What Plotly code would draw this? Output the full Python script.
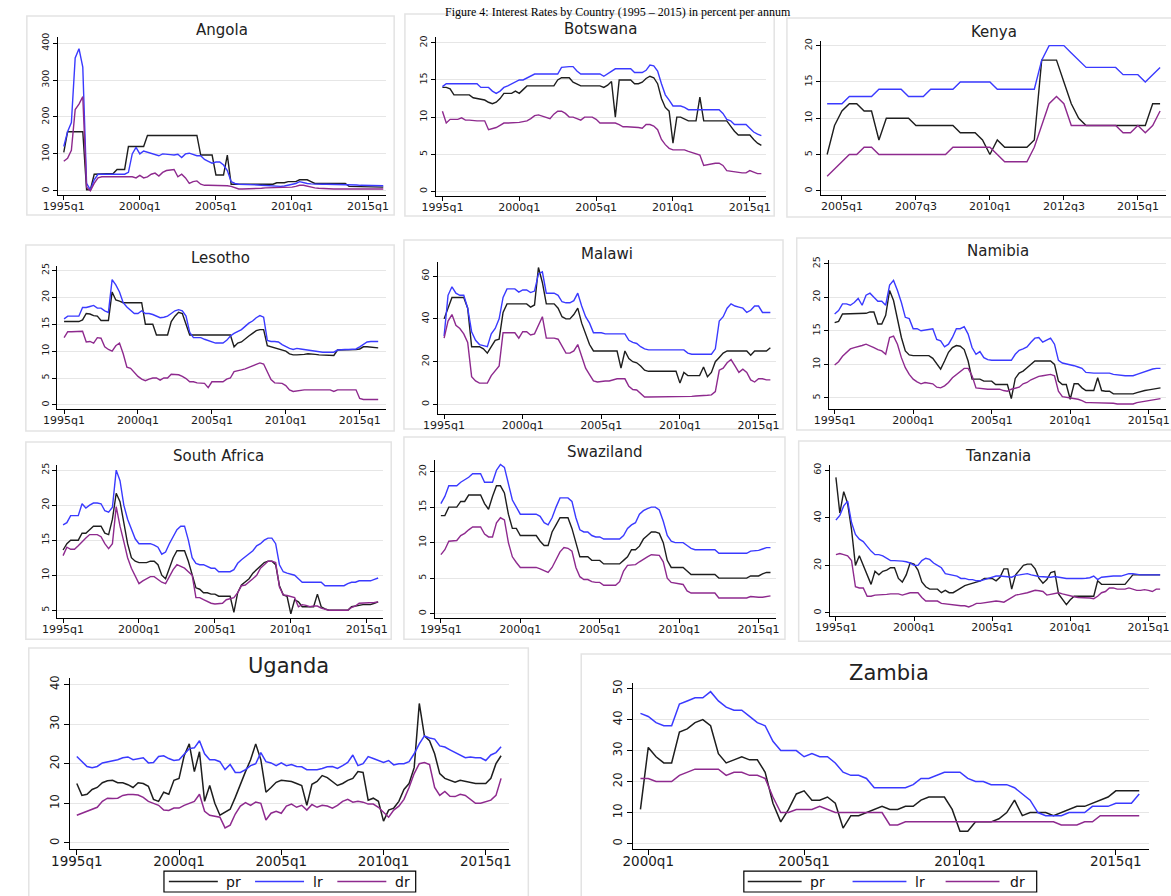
import plotly.graph_objects as go

W, H = 1171, 896

# ---------------- data (quarterly) ----------------
ticks_5y = ["1995q1", "2000q1", "2005q1", "2010q1", "2015q1"]
ticks_kenya = ["2005q1", "2007q3", "2010q1", "2012q3", "2015q1"]
ticks_zambia = ["2000q1", "2005q1", "2010q1", "2015q1"]

angola_start = "1995q1"
angola_pr = [104,160,160,160,160,160,3,3,45,45, 45,45,45,47,58,58,58,120,120,120,
             120,120,150,150,150,150,150,150,150,150, 150,150,150,150,150,150,97,97,97,97,
             43,43,43,97,18,18,18,18,18,18, 18,18,18,18,18,18,22,22,22,25,
             25,25,30,30,30,25,20,20,20,20, 20,20,20,20,20,12,12,11,11,11, 11,11,10,10,10]
angola_lr = [120,160,185,360,385,335,20,3,30,45, 45,45,45,45,45,45,45,50,100,118,
             100,108,105,103,98,95,100,98,98,97, 99,90,100,102,98,95,95,85,80,75,
             78,78,70,55,25,20,18,18,18,18, 17,16,15,14,13,12,12,12,13,15,
             17,20,25,22,20,19,18,18,18,18, 18,18,17,17,17,16,16,16,15,15, 15,15,15,15,14]
angola_dr = [80,88,110,220,235,255,10,0,20,35, 38,38,38,38,38,38,38,38,38,35,
             42,35,38,45,48,40,50,55,57,58, 38,45,35,20,25,27,18,15,15,15,
             14,14,14,14,12,8,5,5,5,6, 6,7,7,8,8,8,8,9,9,10,
             10,12,15,15,12,10,8,7,6,6, 5,5,5,5,5,5,5,5,5,4, 4,4,4,5,5]

botswana_start = "1995q1"
botswana_lr = [14.1,14.5,14.5,14.5,14.5,14.5,14.5,14.5,14.5,14.5, 14,14,14,13.5,13.2,13.5,14,14.2,14.5,14.8,
               15,15,15.3,15.5,15.8,15.8,15.8,15.8,15.8,15.8, 15.8,16.7,16.8,16.8,16.8,16.2,15.8,15.8,15.8,15.8,
               15.8,15.8,15.5,15.8,16.2,16.5,16.5,16.5,16.5,16.5, 16,16,16,16.3,17,16.9,16.2,14.5,13,12.3,
               11.5,11.5,11.5,11.3,11,11,11,11,11,11, 11,11,11,10.5,9.7,9.5,9,9,9,9, 8.5,8,7.7,7.5]
botswana_pr = [14,14,13.8,13,13,13,13,13,12.6,12.5, 12.5,12.3,12,11.8,12,12.5,13.2,13.2,13.2,13.5,
               13.2,13.7,14.2,14.2,14.2,14.2,14.2,14.2,14.2,14.2, 15,15.3,15.3,15.3,14.7,14.5,14.2,14.2,14.2,14.2,
               14.2,14.2,14,14.3,14.8,10,15,15,15,15, 14.5,14.5,14.7,15.2,15.5,15.3,14.5,12.5,11.3,10.8,
               6.5,10,10,9.8,9.5,9.5,9.5,12.7,9.5,9.5, 9.5,9.5,9.5,9.5,9.5,8.8,8.1,7.6,7.6,7.6, 7.6,7,6.5,6.2]
botswana_dr = [10.8,9.2,9.7,9.7,9.7,9.9,9.6,9.6,9.5,9.5, 9.5,9.5,8.3,8.4,8.6,8.9,9.2,9.2,9.2,9.2,
               9.3,9.4,9.5,9.8,10.2,10.3,10.1,9.9,9.8,10.4, 10.8,10.8,10.5,10,10,9.8,9.6,10,10,10,
               9.7,9.2,9.2,9.2,9.2,9.2,9,8.7,8.7,8.7, 8.6,8.6,8.5,9,9,8.8,8.3,7,6.3,5.8,
               5.6,5.6,5.6,5.6,5.4,5.2,5,4.9,3.5,3.6, 3.8,3.8,3.8,3.5,2.8,2.7,2.6,2.6,2.5,2.5, 2.8,2.6,2.4,2.4]

kenya_start = "2004q3"
kenya_lr = [12,12,12,13,13,13,13,14,14,14, 14,13,13,13,14,14,14,14,15,15,
            15,15,15,14,14,14,14,14,14,18, 20,20,20,19,18,17,17,17,17,17, 16,16,16,15,16,17]
kenya_pr = [5,9,11,12,12,11,11,7,10,10, 10,10,9,9,9,9,9,9,8,8,
            8,7,5,7,6,6,6,6,7,18, 18,18,15,12,10,9,9,9,9,9, 9,9,9,9,12,12]
kenya_dr = [2,3,4,5,5,6,6,5,5,5, 5,5,5,5,5,5,5,6,6,6,
            6,6,6,5,4,4,4,4,6,9, 12,13,12,9,9,9,9,9,9,9, 8,8,9,8,9,11]

lesotho_start = "1995q1"
lesotho_lr = [16,16.5,16.5,16.5,16.5,18.1,18.1,18.3,18.5,18, 18,17.5,17.2,23.3,22.3,21,19,18.2,17.5,17,
              17,17.5,17,17,16.8,16.5,16.2,16.3,16.5,17, 17.5,17.7,17.5,16.5,13.5,12.5,12.5,12.5,12.2,12,
              11.8,11.5,11.5,11.5,12,12.8,13.3,13.6,14,14.6, 15.2,15.6,16.2,16.6,16.3,12,11.8,11.8,11.7,11.2,
              10.8,10.5,10.3,10.5,10.4,10.3,10.2,10,9.9,9.8, 9.8,9.8,9.8,9.8,10.2,10.3,10.3,10.3,10.4,10.4,
              10.8,11.3,11.7,11.8,11.8,11.8]
lesotho_pr = [15.5,15.5,15.5,15.5,15.5,15.8,17,16.9,16.6,16.5, 15.7,15.7,15.7,21,19.5,19.3,19,19,19,19,
              19,19,15,15,15,13,13,13,13,15.5, 16.5,17.2,17,15,13,13,13,13,13,13,
              13,13,13,13,13,13,10.8,11.5,11.7,12.3, 12.8,13.3,13.8,14,14,11,10.8,10.7,10.5,10.2,
              10,9.5,9.3,9.3,9.3,9.4,9.5,9.5,9.4,9.3, 9.3,9.3,9.2,9.2,10.2,10.2,10.2,10.3,10.3,10.3,
              10.4,10.8,10.8,10.7,10.6,10.6]
lesotho_dr = [12.5,13.6,13.6,13.6,13.6,13.7,11.7,11.8,11.5,12.5, 12.4,10.8,10.3,10,11,11.5,9.5,7,6.8,6,
              5.3,4.8,4.5,4.8,5,5,4.6,5,5,5.7, 5.7,5.6,5.3,4.9,4.3,4.3,4.1,4,4,3.2,
              4.3,4.3,4.3,4.3,4.8,5,6.2,6.3,6.5,6.7, 7,7.2,7.6,7.8,7.6,6,4.7,4.1,4,4,
              3.6,2.8,2.5,2.6,2.8,2.8,2.8,2.8,2.8,2.8, 2.8,2.8,2.8,2.5,2.8,2.8,2.8,2.8,2.8,2.8,
              1.2,1,1,1,1,1]

malawi_start = "1995q1"
malawi_lr = [32,51,55,52,51,51,45,34,30,28, 27.5,27,33,35.5,40,50,54,54,54,52.5,
             53.5,53.5,52.3,53,61,62,52,52,52,51, 48,47.5,47.5,48.5,52,46,41,38,33.5,33.5,
             33.5,33,33,33,33,33,33,30,29,28.5, 27,26,25.5,25.5,25.5,25.5,25.5,25.5,25.5,25.5,
             25.5,25.5,24,23.5,23.5,23.5,23.5,23.5,23.5,26, 39,41,45,47,46,45.5,45,43,44,46, 46,43,43,43]
malawi_pr = [40,45,50,50,50,50,45,27,27,27, 26,24,27,30,30.5,43,47,47,47,47,
             47,47,45.5,46.5,64,57,47,47,47,45, 41,40,40,42,45,38,33,28,25,25,
             25,25,25,25,25,17,25,21.5,20,19.5, 18,16,15.5,15.5,15.5,15.5,15.5,15.5,15.5,15.5,
             10,15,13.5,13.5,13.5,13.5,17.5,13,15,20, 22,24,25,25,25,25,25,25,23,25, 25,25,25,26.5]
malawi_dr = [31,39,42,37,35.5,33,29,13,11,10, 10,10,13.5,16,18,33.5,33.5,33.5,33.5,31,
             34,34,32.5,33,37,41,31,31,31,30.5, 27,24,24,25,28,22,17,14,11,10.5,
             10.8,11,11,11.5,12,12,12,8.5,7,6.8, 5,3.5,3.5,3.5,3.5,3.5,3.5,3.5,3.5,3.5,
             3.5,3.6,3.8,3.8,4,4,4.2,4.3,4.5,6, 16,17,19.5,21,18,15,16.5,15,11.5,10.5, 12,12,11.5,11.5]

namibia_start = "1995q1"
namibia_lr = [17.5,18,19,19,18.8,19.2,19.8,18.8,20.3,20.6, 20,19.4,19.4,18.8,21.8,22.5,21,19.2,17,16.8,
              15.3,15.3,15,15.1,15.2,15.3,13.7,13.5,12.6,13, 14,15.3,15.3,15.6,14.5,12.5,11.5,11.9,11,10.7,
              10.6,10.6,10.6,10.6,10.6,10.6,11.5,12.1,12.3,12.6, 13.3,13.9,14,13.3,13.6,13.9,13,10.6,10.2,10.1,
              10,9.8,9.6,9.4,8.8,8.7,8.7,8.7,8.7,8.7, 8.7,8.5,8.4,8.3,8.3,8.3,8.3,8.5,8.7,9, 9.2,9.3,9.4,9.4]
namibia_pr = [16.2,16.4,17.5,17.5,17.5,17.5,17.5,17.5,17.6,17.8, 17.8,16,16,17.3,21,19.5,16.5,14,12,11.4,
              11.3,11.3,11.3,11.3,11.3,10.9,10,9.3,10.5,11.8, 12.5,12.8,12.7,12.2,10.5,7.8,7.8,7.8,7.5,7.5,
              7.5,7,7,7,7,4.9,7.9,8.7,9,9.5, 10,10.5,10.5,10.5,10.5,10.5,10,7.5,7,7,
              4.8,7.1,7.1,6.5,6.1,6.1,6.1,8,6.1,6, 6,5.6,5.6,5.6,5.6,5.6,5.6,5.8,6,6.1, 6.2,6.3,6.5,6.5]
namibia_dr = [9.9,10.4,11.2,11.8,12.3,12.5,12.6,12.8,13,12.8, 12.5,12.2,12,11.5,14,14.2,13,11,9.5,8.5,
              7.8,7.4,7.1,7.3,7.2,7.1,6.6,6.5,6.8,7.3, 8,8.5,9,9.4,9.4,8.3,6.5,6.4,6.3,6.3,
              6.3,6.3,6.3,6.1,6,6.3,6.4,6.6,7.1,7.3, 7.7,8,8.2,8.3,8.4,8.5,8.3,6,5.2,5.1,
              5.1,4.9,4.8,4.6,4.3,4.3,4.3,4.3,4.3,4.3, 4.3,4.2,4.1,4.1,4,4,4.1,4.3,4.4,4.5, 4.6,4.7,4.8,4.9]

southafrica_start = "1995q1"
southafrica_lr = [17.2,17.5,18.5,18.5,18.5,20.2,19.6,20,20.3,20.3, 20.2,19.2,19,19.7,25,23.5,20,18,16.5,15.2,
                  14.5,14.5,14.5,14.5,14.3,14,13,13.3,14.5,15.5, 16.5,17,17,15,12.5,11.7,11.5,11.5,11.2,11,
                  11,10.5,10.5,10.5,10.5,10.8,11.7,12.2,12.6,13, 13.5,14.2,14.5,15,15.3,15.3,14.5,11.5,10.5,10.3,
                  10.2,10,9.5,9,9,9,9,9,9,8.5, 8.5,8.5,8.5,8.5,8.5,8.8,9,9,9.2,9.2, 9.2,9.2,9.4,9.6]
southafrica_pr = [13.6,14.5,15,15,15,16,16,16.5,17,17, 17,16,15.8,18,21.7,20.5,17.5,14.5,12.5,12,
                  11.8,11.8,11.8,12,12,11.5,10,9.5,11,12.5, 13.5,13.5,13.5,12,10,8.2,8,7.5,7.5,7.3,
                  7.3,7,7,7,7,4.7,7.5,8.6,9,9.5, 10.3,10.8,11.3,11.8,12,12,11.5,8.5,7.2,7,
                  4.5,6.5,6.2,5.5,5.5,5.5,5.5,7.3,5.5,5.2, 5,5,5,5,5,5,5.5,5.6,5.8,5.8, 5.8,5.8,6,6.2]
southafrica_dr = [12.8,14,13.7,13.7,14.2,14.8,15.3,15.8,15.8,15.8, 15.5,14.5,13.8,14.5,19.8,17,14.8,12.5,11,10,
                  8.8,9.2,9.5,9.8,9.8,9.4,9,8.8,9.8,10.8, 11.5,11.3,11,10.5,10,6.8,6.8,6.5,6.2,6,
                  5.9,5.9,6,6.5,6.7,6.8,7.5,8.5,8.6,9, 9.5,10,11,11.5,12,12,11.8,8.3,7.2,7.1,
                  7,6.8,5.5,5.8,5.7,5.5,5.6,5.6,5.3,5.1, 5,5,5,5,5,5,5.4,5.6,6,6, 6,6,6.1,6.2]

swaziland_start = "1995q1"
swaziland_lr = [15.5,16.5,18,18,18,18.5,18.8,19.2,19.7,19.7, 19.7,18.5,18.5,18.5,20.2,21,20.6,18.5,16,15,
                14,14,14,14,14,13.7,12.8,12.5,13.5,15, 16.3,16.3,16.3,15.8,13.5,11.8,11.5,11.5,11,10.8,
                10.8,10.5,10.5,10.5,10.5,10.5,11,12,12.5,12.8, 14,14.5,14.8,15,15,14.6,13,11,10.2,10,
                10,10,9.6,9.2,9,9,9,9,9,9, 8.5,8.5,8.5,8.5,8.5,8.5,8.5,8.5,8.8,8.8, 8.9,9.1,9.3,9.3]
swaziland_pr = [13.8,13.8,15,15,15,15.8,15.8,16.7,16.7,16.7, 16.7,15.5,14.7,16.5,18,18,17,14,12,12,
                11,11,11,11,11,10.2,9.6,9.6,11.5,12.5, 13.5,13.5,13.5,12,10,8,8,8,7.5,7.5,
                7.5,7,7,7,7,7,7.5,8,9,9, 9.5,10.5,11,11.5,11.5,11.3,10,7.5,6.5,6.5,
                6.5,6.5,6,5.5,5.5,5.5,5.5,5.5,5.5,5.5, 5,5,5,5,5,5,5,5,5.3,5.3, 5.3,5.6,5.8,5.8]
swaziland_dr = [8.3,9,10.2,10.3,10.3,11,11.3,11.8,12.2,12.2, 12.2,11.2,10.8,10.8,12.8,13.5,13.2,10,8,7.2,
                6.5,6.5,6.5,6.5,6.5,6.3,6,5.8,6.5,7.5, 8.7,9.3,9.2,8.8,6.5,5.2,4.8,4.8,4.5,4.4,
                4.4,4,4,4,4,4.5,6,6.8,6.8,6.9, 7.3,7.7,8,8.3,8.3,8.2,7.3,5,4.4,4.3,
                4.3,4.1,3.2,2.9,2.9,2.9,2.9,2.9,2.9,2.9, 2.2,2.2,2.2,2.2,2.2,2.2,2.2,2.2,2.4,2.3, 2.3,2.3,2.4,2.5]

tanzania_start = "1995q1"
tanzania_lr = [39,41,45,47,38,33,31,30,28,26, 24.5,24.5,24,23,22,22,22,21.8,21.5,21,
               20,20,22,23,22.5,21,20,19,16.5,16.2, 16,15.5,14.5,14.5,14,14,13.5,13.5,14,14.5,
               15,15.5,15.5,15.5,15.2,15,15.8,16,16.3,16.5, 16,15.5,15.3,15.2,15,15,15.3,15,14.8,14.5,
               14.5,14.4,14.3,14.5,14.6,14.8,15.5,14,15,15.2, 15.5,15.5,15.5,15.5,16,16.5,16.5,16.2,16,16, 16,16,16,16]
tanzania_pr = [57,42,51,46,35,20,24,20,16,12, 17.5,16,17.5,18,19,19,14.5,13,16,21,
               20.5,18,13,11,10,10,10,8.5,9.5,8.5, 8.5,9.5,10.5,11.5,12,12.5,13,13.5,14.5,14.5,
               14.5,13.5,15,18.5,18.5,10,16,18,20,20.5, 20.5,18.5,14.5,12.5,14,17,17.5,8,5.5,3.5,
               5.5,7,7,7,7,7,7,13.5,12,12, 12,12,12,12,12,14,16,16,16,16, 16,16,16,16]
tanzania_dr = [24.5,25,24.5,24,22,11,10.5,10.5,7,7, 7.5,7.5,7.5,7.8,8,8,8,7.5,8,8.5,
               8.5,8.5,6.5,5,5,5,5,4,3.8,3.5, 3.2,3,3,3,2.5,3.2,4,4,4.2,4.3,
               4.8,5,4.8,4.5,5.5,6.5,7.5,7.8,8,8.5, 9,9.5,9.3,9,7.5,7.8,8,8.5,8,7.5,
               7,6.8,6.5,6.5,6.3,6.3,6,7,8.5,9, 10.5,10.5,10,10,10,10.5,10,9.5,9.5,9.8, 9.5,9,10,10]

uganda_start = "1995q1"
uganda_lr = [21.8,20.5,19.3,19,19.3,20.2,20.5,20.8,21,21.5, 21.7,21,21.3,21.5,20.2,20.3,21.8,22,21.3,20.8,
             21,22.5,23.8,24,25.8,22.5,21,21,20.5,18.5, 19.8,17.8,17.8,18.5,19.5,20,22.8,20.5,20.2,19.5,
             20.2,19.5,19.8,19.3,19.2,18.5,18.5,18.5,18.8,19.2, 19.3,18.8,19.5,20.3,22.2,19.5,20,21.8,21.3,20.8,
             20.3,20.8,19.7,20,20,20.5,22.5,25,27,26.5, 26.2,24.5,24.2,23.5,22.8,22.2,21.5,21.7,21.5,21.5,
             20.8,22.2,22.8,24.3]
uganda_pr = [15,12,12.3,13.5,14,15.2,15.7,15.8,15.2,15.2, 14.7,14,15.2,15,14.3,11,10.5,12.8,12.3,15.8,
             16.3,22,25,18,23,10.5,14.5,10,7,7.8, 8.5,11.5,15,18,21,25,21,12.8,14,15.3,
             15.8,15.7,15.5,15,14.5,9.5,14.8,15.5,17,16.5, 15.5,14.5,15,15.8,16.3,18,17.8,10.8,11.3,10.5,
             5.5,8.3,8.8,10.5,13.5,15,19,35.2,27,25.8, 22.5,17.5,16.3,15.8,15.3,15.8,15.5,15.2,15,15,
             15,16.3,20,22]
uganda_dr = [7,7.5,7.8,8.3,9,10.5,11.3,11.2,11.3,12, 12.2,12.2,12.1,11.5,10.5,10,9.5,8.3,8.2,8.8,
             8.8,9.5,10,10.5,12.3,8,7,6.8,6.5,3.8, 4.5,7.3,9.3,10.2,9.5,10.3,10,5.8,7.5,8,
             7.5,9.3,9.8,9,9.5,8.3,9.7,9,9.5,9.3, 8.8,9.5,10.5,11,10.3,10.5,10.3,9.8,9.8,9,
             7.8,6.5,8.3,9.3,11,14,17.5,20,20.3,19.8, 14,12,13,11.8,11.7,12.3,12,11,10,10,
             10.5,10.8,12,16.3]

zambia_start = "1999q4"
zambia_pr = [11,31,28,26,26,36,37,39,40,38, 29,26,27,28,27,27,23,13,7,11,
             16,17,14,14,15,13,5,9,9,10, 11,12,11,11,12,12,14,15,15,15,
             11,4,4,7,7,7,8,10,14,9, 10,10,10,9,10,11,12,12,13,14, 15,17,17,17,17]
zambia_lr = [42,41,39,38,38,45,46,47,47,49, 46,44,43,43,41,39,38,33,30,30,
             30,28,29,28,28,26,23,22,22,21, 18,18,18,18,18,19,21,21,22,23,
             23,23,21,20,20,19,19,19,18,16, 14,10,9,9,9,10,10,10,12,12, 12,13,13,13,16]
zambia_dr = [21,21,20,20,20,22,23,24,24,24, 24,22,23,23,22,22,21,15,10,10,
             11,11,11,12,11,10,10,10,10,10, 10,10,6,6,7,7,7,7,7,7,
             7,7,7,7,7,7,7,7,7,7, 7,7,7,7,6,6,6,7,7,9, 9,9,9,9,9]

series_names = ["pr", "lr", "dr"]
series_colors = {"pr": "#1e1e1e", "lr": "#3a3aff", "dr": "#8e2a8e"}


def qidx(label):
    """quarter label like '1995q1' -> sequential quarter number."""
    return (int(label[:4]) - 1995) * 4 + int(label[5]) - 1


# ---------------- layout of panels (pixel geometry) ----------------
FONT = "DejaVu Sans"
panels = [
    dict(title="Angola", data=(angola_pr, angola_lr, angola_dr), start=angola_start,
         box=(40, 375, 33, 192), xr=(-1.47, 84.8), yr=(-11.6, 417), yt=[0, 100, 200, 300, 400],
         xt=ticks_5y, tpos=(207, 26), frame=(8, 12, 383, 212), big=False),
    dict(title="Botswana", data=(botswana_pr, botswana_lr, botswana_dr), start=botswana_start,
         box=(426, 763, 33, 193), xr=(-1.6, 84.3), yr=(-0.63, 20.8), yt=[0, 5, 10, 15, 20],
         xt=ticks_5y, tpos=(594, 25), frame=(394, 10, 771, 213), big=False),
    dict(title="Kenya", data=(kenya_pr, kenya_lr, kenya_dr), start=kenya_start,
         box=(819, 1171, 36.7, 191.7), xr=(37.2, 83.8), yr=(-0.55, 20.7), yt=[0, 5, 10, 15, 20],
         xt=ticks_kenya, tpos=(995, 28), frame=(784, 14, 1180, 214), big=False),
    dict(title="Lesotho", data=(lesotho_pr, lesotho_lr, lesotho_dr), start=lesotho_start,
         box=(39.3, 375, 263.3, 406.7), xr=(-1.78, 87.2), yr=(-0.74, 25.8), yt=[0, 5, 10, 15, 20, 25],
         xt=ticks_5y, tpos=(206, 255), frame=(7, 242, 383, 429), big=False),
    dict(title="Malawi", data=(malawi_pr, malawi_lr, malawi_dr), start=malawi_start,
         box=(427.7, 772.7, 259.3, 411.7), xr=(-1.57, 84.4), yr=(-4.37, 66.5), yt=[0, 20, 40, 60],
         xt=ticks_5y, tpos=(600, 251), frame=(393, 237, 780, 427), big=False),
    dict(title="Namibia", data=(namibia_pr, namibia_lr, namibia_dr), start=namibia_start,
         box=(826.7, 1171, 256.7, 406.7), xr=(-1.5, 84.4), yr=(3.37, 25.6), yt=[5, 10, 15, 20, 25],
         xt=ticks_5y, tpos=(999, 248), frame=(794, 235, 1180, 428), big=False),
    dict(title="South Africa", data=(southafrica_pr, southafrica_lr, southafrica_dr), start=southafrica_start,
         box=(39.3, 371.7, 463.3, 616.7), xr=(-1.47, 84.3), yr=(3.9, 25.7), yt=[5, 10, 15, 20, 25],
         xt=ticks_5y, tpos=(204, 454), frame=(7, 440, 380, 638), big=False),
    dict(title="Swaziland", data=(swaziland_pr, swaziland_lr, swaziland_dr), start=swaziland_start,
         box=(424.3, 773.3, 458.3, 616.7), xr=(-1.58, 84.5), yr=(-0.61, 21.6), yt=[0, 5, 10, 15, 20],
         xt=ticks_5y, tpos=(598, 450), frame=(393, 435, 782, 638), big=False),
    dict(title="Tanzania", data=(tanzania_pr, tanzania_lr, tanzania_dr), start=tanzania_start,
         box=(827.7, 1171, 463.3, 615), xr=(-1.58, 84.5), yr=(-1.4, 62.1), yt=[0, 20, 40, 60],
         xt=ticks_5y, tpos=(999, 454), frame=(796, 439, 1180, 640), big=False),
    dict(title="Uganda", data=(uganda_pr, uganda_lr, uganda_dr), start=uganda_start,
         box=(51.7, 500, 676.7, 848.3), xr=(-1.4, 84.5), yr=(-1.4, 41.7), yt=[0, 10, 20, 30, 40],
         xt=ticks_5y, tpos=(275, 665), frame=(10, 647, 520, 905), big=True,
         key=dict(box=(148, 871, 405, 892), lines=[(153, 203), (241, 291), (325, 375)],
                  text_x=[209, 298, 382])),
    dict(title="Zambia", data=(zambia_pr, zambia_lr, zambia_dr), start=zambia_start,
         box=(626.5, 1154, 681.7, 849), xr=(18.0, 84.3), yr=(-1.83, 51.9), yt=[0, 10, 20, 30, 40, 50],
         xt=ticks_zambia, tpos=(888, 672), frame=(574, 653, 1180, 905), big=True,
         key=dict(box=(740, 871, 1039, 892), lines=[(744, 799), (851, 906), (946, 1001)],
                  text_x=[806, 913, 1010])),
]

fig = go.Figure()
layout = dict(width=W, height=H, margin=dict(l=0, r=0, t=0, b=0),
              paper_bgcolor="white", plot_bgcolor="white", showlegend=False)
shapes, annotations = [], []


def px(x):
    return x / W


def py(y):
    return 1 - y / H


for i, p in enumerate(panels, start=1):
    xa = "xaxis" if i == 1 else f"xaxis{i}"
    ya = "yaxis" if i == 1 else f"yaxis{i}"
    xref = "x" if i == 1 else f"x{i}"
    yref = "y" if i == 1 else f"y{i}"
    x0, x1, yt_, yb_ = p["box"]
    big = p["big"]
    xfont = dict(family=FONT, size=13.5 if big else 11, color="#1a1a1a")
    yfont = dict(family=FONT, size=11.5 if big else 9.5, color="#1a1a1a")
    tl = 5 if big else 4
    layout[xa] = dict(domain=[px(x0), px(x1)], anchor=yref, range=list(p["xr"]),
                      tickvals=[qidx(t) for t in p["xt"]], ticktext=p["xt"],
                      showline=True, linecolor="black", linewidth=1, ticks="outside",
                      ticklen=tl, tickcolor="black", tickwidth=1, showgrid=False,
                      zeroline=False, tickfont=xfont, fixedrange=True,
                      ticklabelstandoff=-5 if big else -3)
    layout[ya] = dict(domain=[py(yb_), py(yt_)], anchor=xref, range=list(p["yr"]),
                      tickvals=p["yt"], ticktext=[str(v) for v in p["yt"]],
                      showline=True, linecolor="black", linewidth=1, ticks="outside",
                      ticklen=tl, tickcolor="black", tickwidth=1, showgrid=True,
                      gridcolor="#e6e6e6", gridwidth=1, zeroline=False, tickangle=-90,
                      tickfont=yfont, fixedrange=True)
    s0 = qidx(p["start"])
    for name, vals in zip(series_names, p["data"]):
        fig.add_trace(go.Scatter(
            x=[s0 + k for k in range(len(vals))], y=vals, mode="lines", name=name,
            line=dict(color=series_colors[name], width=1.5 if big else 1.4),
            xaxis=xref, yaxis=yref, hoverinfo="skip", showlegend=False))
    fx0, fy0, fx1, fy1 = p["frame"]
    shapes.append(dict(type="rect", xref="paper", yref="paper", x0=px(fx0), x1=px(fx1),
                       y0=py(fy1), y1=py(fy0), line=dict(color="#e3e3e3", width=1.5),
                       fillcolor="rgba(0,0,0,0)", layer="below"))
    tx, ty = p["tpos"]
    annotations.append(dict(text=p["title"], x=px(tx), y=py(ty), xref="paper", yref="paper",
                            xanchor="center", yanchor="middle", showarrow=False,
                            font=dict(family=FONT, size=21 if big else 15, color="#222222")))

    # key (legend) box under the two large panels
    if "key" in p:
        k = p["key"]
        bx0, by0, bx1, by1 = k["box"]
        shapes.append(dict(type="rect", xref="paper", yref="paper", x0=px(bx0), x1=px(bx1),
                           y0=py(by1), y1=py(by0), line=dict(color="black", width=1.2),
                           fillcolor="white", layer="above"))
        ym = (by0 + by1) / 2
        for name, (lx0, lx1), tx_ in zip(series_names, k["lines"], k["text_x"]):
            shapes.append(dict(type="line", xref="paper", yref="paper", x0=px(lx0), x1=px(lx1),
                               y0=py(ym), y1=py(ym), line=dict(color=series_colors[name], width=1.6),
                               layer="above"))
            annotations.append(dict(text=name, x=px(tx_), y=py(ym + 0.5), xref="paper", yref="paper",
                                    xanchor="left", yanchor="middle", showarrow=False,
                                    font=dict(family=FONT, size=14, color="#111111")))

annotations.append(dict(text="Figure 4: Interest Rates by Country (1995 \u2013 2015) in percent per annum",
                        x=px(612), y=1.0, xref="paper", yref="paper", xanchor="center",
                        yanchor="top", showarrow=False, borderpad=0,
                        font=dict(family="Liberation Serif", size=12, color="black")))

layout["shapes"] = shapes
layout["annotations"] = annotations

fig.update_layout(**layout)
fig.write_html("out.html")
